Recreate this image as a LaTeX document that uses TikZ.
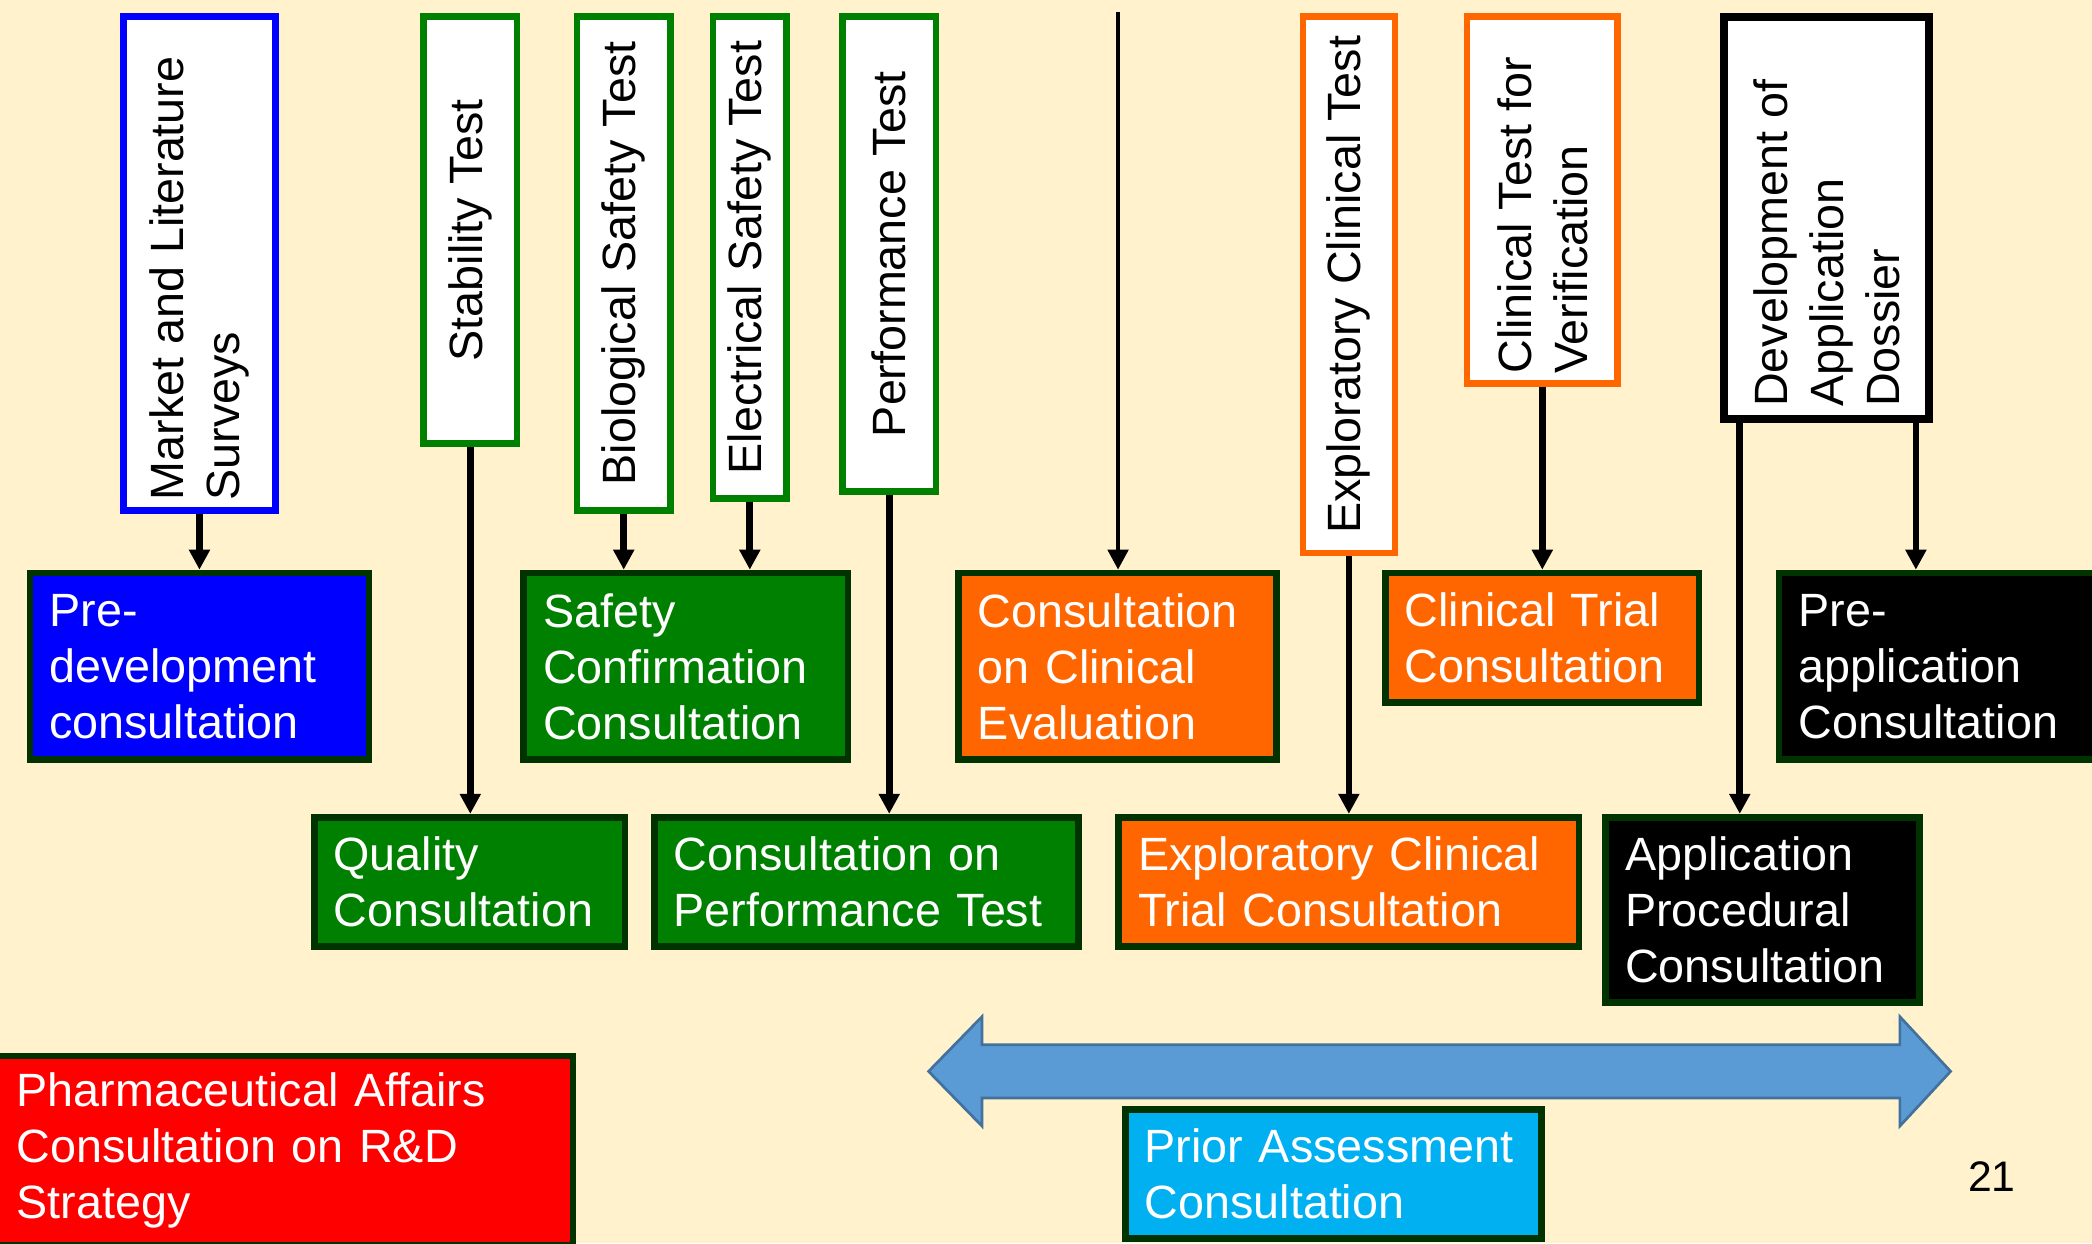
\documentclass[tikz,border=0pt]{standalone}
\usepackage{fontspec}
\setmainfont{Liberation Sans}
\usetikzlibrary{arrows.meta}

\definecolor{paper}{HTML}{FFF2CC}
\definecolor{pblue}{HTML}{0000FF}
\definecolor{pgreen}{HTML}{008000}
\definecolor{porange}{HTML}{FF6600}
\definecolor{pred}{HTML}{FF0000}
\definecolor{pcyan}{HTML}{00B0F0}
\definecolor{edgegreen}{HTML}{003300}
\definecolor{band}{HTML}{5B9BD5}
\definecolor{bandedge}{HTML}{41719C}

\newcommand{\uptext}[2]{\rotatebox{90}{\begin{minipage}{#1}\raggedright #2\end{minipage}}}

\begin{document}
\begin{tikzpicture}[x=1pt,y=-1pt,
  every node/.style={font=\fontsize{35}{42}\selectfont},
  testbox/.style={draw=#1, line width=5pt, fill=white, inner sep=0pt},
  consult/.style={draw=edgegreen, line width=5pt, fill=#1, text=white,
    inner xsep=14.5pt, inner ysep=0pt, align=left},
  conn/.style={line width=5pt, -{Triangle[length=15pt,width=15pt]}},
]
% page
\fill[paper] (0,0) rectangle (1568,932);
\useasboundingbox (0,0) rectangle (1568,932);

% tests (upright boxes with rotated text)
\node[testbox=pblue, minimum width=114pt, minimum height=370pt] (market) at (149.5,197.5)
  {\uptext{355pt}{Market and Literature\\Surveys}};
\node[testbox=pgreen, minimum width=70pt, minimum height=320pt] (stab) at (352.5,172.5)
  {\rotatebox{90}{Stability Test}};
\node[testbox=pgreen, minimum width=70pt, minimum height=370pt] (bio) at (467.5,197.5)
  {\rotatebox{90}{Biological Safety Test}};
\node[testbox=pgreen, minimum width=55pt, minimum height=361pt] (elec) at (562,193)
  {\rotatebox{90}{Electrical Safety Test}};
\node[testbox=pgreen, minimum width=70pt, minimum height=356pt] (perf) at (666.5,190.5)
  {\rotatebox{90}{Performance Test}};
\node[testbox=porange, minimum width=69pt, minimum height=402pt] (expl) at (1011,213.5)
  {\rotatebox{90}{Exploratory Clinical Test}};
\node[testbox=porange, minimum width=113pt, minimum height=275pt] (ctv) at (1156,150)
  {\uptext{260pt}{Clinical Test for\\Verification}};
\node[testbox=black, line width=6pt, minimum width=154pt, minimum height=301pt] (dev) at (1369,163.5)
  {\uptext{283pt}{Development of\\Application\\Dossier}};

% consultations
\node[consult=pblue, minimum width=254pt, minimum height=140pt, text width=225pt] (pre) at (149.5,499.5)
  {Pre-\\development\\consultation};
\node[consult=pgreen, minimum width=243pt, minimum height=140pt, text width=214pt] (safety) at (514,499.5)
  {Safety\\Confirmation\\Consultation};
\node[consult=porange, minimum width=238pt, minimum height=140pt, text width=209pt] (cce) at (837.5,499.5)
  {Consultation\\on Clinical\\Evaluation};
\node[consult=porange, minimum width=235pt, minimum height=97pt, text width=206pt] (ctc) at (1156,478)
  {Clinical Trial\\Consultation};
\node[consult=black, minimum width=256pt, minimum height=140pt, text width=227pt] (preapp) at (1461.5,499.5)
  {Pre-\\application\\Consultation};
\node[consult=pgreen, minimum width=233pt, minimum height=97pt, text width=204pt] (quality) at (352,661)
  {Quality\\Consultation};
\node[consult=pgreen, minimum width=318pt, minimum height=97pt, text width=289pt] (cpt) at (649.5,661)
  {Consultation on\\Performance Test};
\node[consult=porange, minimum width=345pt, minimum height=97pt, text width=316pt] (ectc) at (1011,661)
  {Exploratory Clinical\\Trial Consultation};
\node[consult=black, minimum width=235pt, minimum height=139pt, text width=206pt] (apc) at (1321,682)
  {Application\\Procedural\\Consultation};
\node[consult=pred, minimum width=433pt, minimum height=142pt, text width=401pt, inner xsep=16pt] (pharma) at (213,862.5)
  {Pharmaceutical Affairs\\Consultation on R\&D\\Strategy};
\node[consult=pcyan, minimum width=312pt, minimum height=97pt, text width=283pt] (prior) at (999.5,880)
  {Prior Assessment\\Consultation};

% connectors
\draw[conn] (market.south) -- (market.south |- pre.north);
\draw[conn] (stab.south) -- (stab.south |- quality.north);
\draw[conn] (bio.south) -- (bio.south |- safety.north);
\draw[conn] (elec.south) -- (elec.south |- safety.north);
\draw[conn] (perf.south) -- (perf.south |- cpt.north);
\coordinate (evalfeed) at (838,9);
\draw[conn, line width=3.5pt] (evalfeed) -- (evalfeed |- cce.north);
\draw[conn] (expl.south) -- (expl.south |- ectc.north);
\draw[conn] (ctv.south) -- (ctv.south |- ctc.north);
\draw[conn] ([xshift=15pt]dev.south west) -- ([xshift=15pt]dev.south west |- apc.north);
\draw[conn] ([xshift=-13pt]dev.south east) -- ([xshift=-13pt]dev.south east |- preapp.north);

% two-headed band
\draw[fill=band, draw=bandedge, line width=2pt]
  (696,803) -- (736,762) -- (736,783) -- (1424,783) -- (1424,762) -- (1462,803)
  -- (1424,844) -- (1424,823) -- (736,823) -- (736,844) -- cycle;

% page number
\node[font=\fontsize{32}{38}\selectfont] (pagenum) at (1493,882) {21};
\end{tikzpicture}
\end{document}
